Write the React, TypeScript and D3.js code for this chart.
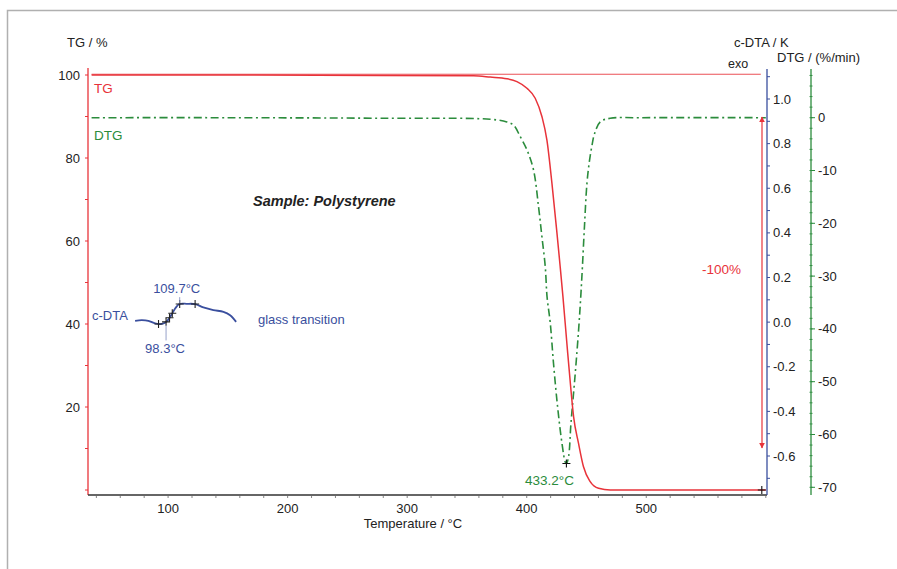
import React from "react";
import * as d3 from "d3";

// ---------- data ----------
const tgTemp = [36, 150, 277, 355.5, 369.5, 383.4, 391.8, 400.2, 407.1, 412.7, 416.9, 421.1, 425.3, 428.0, 430.3, 433.6, 437.0, 439.2, 443.3, 447.5, 453.1, 460.1, 469.9, 600];
const tgValue = [100, 100, 99.9, 99.8, 99.5, 99.1, 98.4, 96.8, 94.4, 90.0, 84.3, 73.9, 61.9, 53.8, 46.6, 35.3, 24.1, 17.7, 11.3, 5.6, 2.0, 0.4, 0.0, 0.0];

const dtgTemp = [36, 150, 277, 369.5, 383.4, 389.0, 394.6, 400.2, 405.7, 409.9, 412.7, 415.5, 417.0, 419.7, 422.4, 425.8, 429.5, 432.2, 433.2, 435.0, 437.0, 440.6, 443.4, 445.2, 446.6, 448.3, 450.4, 452.6, 454.8, 456.5, 461.5, 469.9, 495, 600];
const dtgValue = [0, 0, -0.1, -0.3, -0.8, -1.4, -3.6, -6.1, -9.9, -16.9, -22.5, -28.2, -33.9, -38.9, -46.5, -54.7, -61.7, -65.2, -65.5, -64.2, -57.9, -48.4, -40.2, -33.9, -28.2, -20.6, -12.4, -8.0, -5.0, -3.2, -0.8, -0.1, 0, 0];

const dtaTemp = [72.4, 78, 83.5, 89.1, 93.3, 97.5, 100.3, 103.1, 105.9, 109.5, 115.6, 122.6, 129.5, 137.9, 146.3, 151.9, 156.9];
const dtaValue = [0.006, 0.009, 0.006, -0.006, -0.009, -0.003, 0.012, 0.036, 0.061, 0.081, 0.082, 0.081, 0.066, 0.054, 0.046, 0.031, 0.001];
const dtaMarkTemp = [92.0, 98.3, 101.2, 103.5, 109.7, 122.6];

const tgTicks = [20, 40, 60, 80, 100];
const xTicks = [100, 200, 300, 400, 500];
const dtaTicks = [-0.6, -0.4, -0.2, 0.0, 0.2, 0.4, 0.6, 0.8, 1.0];
const dtgTicks = [-70, -60, -50, -40, -30, -20, -10, 0];

const peakTemp = 433.2;
const peakDtg = -65.5;
const endTemp = 600;

const RED = "#e8333a";
const GREEN = "#2b8c3c";
const BLUE = "#3a4f9e";
const TXT = "#222";
const FONT = "'Liberation Sans', Arial, sans-serif";
const FS = 13;

export default function App() {
  const x = d3.scaleLinear().domain([33, 601]).range([88, 767]);
  const yTG = d3.scaleLinear().domain([0, 100]).range([490, 75]);
  const yDTA = d3.scaleLinear().domain([-0.6, 1.0]).range([456, 99]);
  const yDTG = d3.scaleLinear().domain([-70, 0]).range([487.3, 117.7]);

  const tgLine = d3.line<number>().x((_, i) => x(tgTemp[i])).y((d) => yTG(d)).curve(d3.curveMonotoneX)(tgValue) || "";
  const dtgLine = d3.line<number>().x((_, i) => x(dtgTemp[i])).y((d) => yDTG(d)).curve(d3.curveCatmullRom)(dtgValue) || "";
  const dtaLine = d3.line<number>().x((_, i) => x(dtaTemp[i])).y((d) => yDTA(d)).curve(d3.curveCatmullRom)(dtaValue) || "";

  const dtaAt = (t: number) => {
    const i = d3.bisectRight(dtaTemp, t) - 1;
    const j = Math.min(i + 1, dtaTemp.length - 1);
    const f = j === i ? 0 : (t - dtaTemp[i]) / (dtaTemp[j] - dtaTemp[i]);
    return dtaValue[i] + f * (dtaValue[j] - dtaValue[i]);
  };

  const cross = (cx: number, cy: number, key: string, color = "#111") => (
    <path key={key} d={`M${cx - 4},${cy}H${cx + 4}M${cx},${cy - 4}V${cy + 4}`} stroke={color} strokeWidth={1.1} />
  );

  const xMinor = d3.range(40, 601, 20);
  const tgMinor = d3.range(0, 101, 10);
  const dtaMinor = d3.range(-7, 12, 1).map((v) => v / 10);
  const dtgMinor = d3.range(-70, 9, 2);

  const y0 = 495;
  const arrowX = 762;
  const arrowTop = 117;
  const arrowBot = 448;

  return (
    <div style={{ position: "fixed", left: 0, top: 0 }}>
      <svg width={897} height={569} style={{ display: "block", background: "#fff" }} fontFamily={FONT}>
        <defs>
          <marker id="ah" viewBox="0 0 10 10" refX="9" refY="5" markerWidth="5" markerHeight="7" orient="auto-start-reverse">
            <path d="M0,0L10,5L0,10z" fill={RED} />
          </marker>
        </defs>
        {/* frame */}
        <path d="M7.5,600V10.5H900" fill="none" stroke="#b0b0b0" strokeWidth={1.5} />

        {/* axis titles */}
        <text x={67} y={47} fontSize={FS} fill={TXT}>TG / %</text>
        <text x={734} y={47} fontSize={FS} fill={TXT}>c-DTA / K</text>
        <text x={777} y={62} fontSize={FS} fill={TXT}>DTG / (%/min)</text>
        <text x={728} y={68} fontSize={12.5} fill={TXT}>exo</text>

        {/* left TG axis */}
        <line x1={88} x2={88} y1={68} y2={y0} stroke={RED} strokeWidth={1.3} />
        {tgMinor.map((v) => (
          <line key={"tgm" + v} x1={85} x2={88} y1={yTG(v)} y2={yTG(v)} stroke={RED} strokeWidth={1} />
        ))}
        {tgTicks.map((v) => (
          <text key={"tgl" + v} x={80} y={yTG(v) + 4.5} fontSize={FS} textAnchor="end" fill={TXT}>{v}</text>
        ))}

        {/* bottom axis */}
        <line x1={88} x2={767} y1={y0} y2={y0} stroke="#333" strokeWidth={1.3} />
        {xMinor.map((v) => (
          <line key={"xm" + v} x1={x(v)} x2={x(v)} y1={y0} y2={y0 + 3} stroke="#666" strokeWidth={0.8} />
        ))}
        {xTicks.map((v) => (
          <text key={"xl" + v} x={x(v)} y={513} fontSize={FS} textAnchor="middle" fill={TXT}>{v}</text>
        ))}
        <text x={413} y={528} fontSize={FS} textAnchor="middle" fill={TXT}>Temperature / °C</text>

        {/* c-DTA axis */}
        <line x1={767} x2={767} y1={69} y2={y0} stroke={BLUE} strokeWidth={1.3} />
        {dtaMinor.filter((v) => yDTA(v) > 69 && yDTA(v) < y0).map((v) => (
          <line key={"dm" + v} x1={767} x2={770} y1={yDTA(v)} y2={yDTA(v)} stroke={BLUE} strokeWidth={1} />
        ))}
        {dtaTicks.map((v) => (
          <text key={"dl" + v} x={773} y={yDTA(v) + 4.5} fontSize={FS} fill={TXT}>{v.toFixed(1)}</text>
        ))}

        {/* DTG axis */}
        <line x1={811} x2={811} y1={69} y2={y0} stroke={GREEN} strokeWidth={1.3} />
        {dtgMinor.filter((v) => yDTG(v) > 69 && yDTG(v) < y0).map((v) => (
          <line key={"gm" + v} x1={809.5} x2={812.5} y1={yDTG(v)} y2={yDTG(v)} stroke={GREEN} strokeWidth={0.9} />
        ))}
        {dtgTicks.map((v) => (
          <line key={"gt" + v} x1={811} x2={815} y1={yDTG(v)} y2={yDTG(v)} stroke={GREEN} strokeWidth={1} />
        ))}
        {dtgTicks.map((v) => (
          <text key={"gl" + v} x={818} y={yDTG(v) + 4.5} fontSize={FS} fill={TXT}>{v}</text>
        ))}

        {/* reference line at start mass */}
        <line x1={x(tgTemp[0])} x2={x(endTemp) - 5} y1={yTG(100) - 0.7} y2={yTG(100) - 0.7} stroke={RED} strokeWidth={1.1} opacity={0.85} />

        {/* DTG curve */}
        <path d={dtgLine} fill="none" stroke={GREEN} strokeWidth={1.6} strokeDasharray="8,3.5,2,3.5" />
        {/* TG curve */}
        <path d={tgLine} fill="none" stroke={RED} strokeWidth={1.5} />

        {/* c-DTA glass transition */}
        <path d={dtaLine} fill="none" stroke={BLUE} strokeWidth={1.8} />
        {dtaMarkTemp.map((t, i) => cross(x(t), yDTA(dtaAt(t)), "dx" + i, "#222"))}
        <line x1={x(109.7)} x2={x(109.7)} y1={yDTA(0.112)} y2={yDTA(0.084)} stroke="#8a96c4" strokeWidth={0.9} />
        <line x1={x(98.3)} x2={x(98.3)} y1={yDTA(-0.014)} y2={yDTA(-0.082)} stroke="#8a96c4" strokeWidth={0.9} />
        <text x={x(109.7) - 3} y={293} fontSize={FS} textAnchor="middle" fill={BLUE}>109.7°C</text>
        <text x={x(98.3) - 1} y={353} fontSize={FS} textAnchor="middle" fill={BLUE}>98.3°C</text>
        <text x={92} y={320} fontSize={FS} fill={BLUE}>c-DTA</text>
        <text x={258} y={324} fontSize={FS} fill={BLUE}>glass transition</text>

        {/* series labels */}
        <text x={94} y={93} fontSize={13.5} fill={RED}>TG</text>
        <text x={94} y={140} fontSize={13.5} fill={GREEN}>DTG</text>
        <text x={253} y={206} fontSize={14.5} fontWeight="bold" fontStyle="italic" fill={TXT}>Sample: Polystyrene</text>

        {/* mass-loss arrow */}
        <line x1={arrowX} x2={arrowX} y1={arrowTop} y2={arrowBot} stroke={RED} strokeWidth={1.2} markerStart="url(#ah)" markerEnd="url(#ah)" />
        <text x={702} y={274} fontSize={13.5} fill={RED}>-100%</text>

        {/* peak marker */}
        {cross(x(peakTemp), yDTG(peakDtg), "pk")}
        <text x={525} y={485} fontSize={13.5} fill={GREEN}>433.2°C</text>
        {cross(x(endTemp) - 4, yTG(0), "end")}
      </svg>
    </div>
  );
}
